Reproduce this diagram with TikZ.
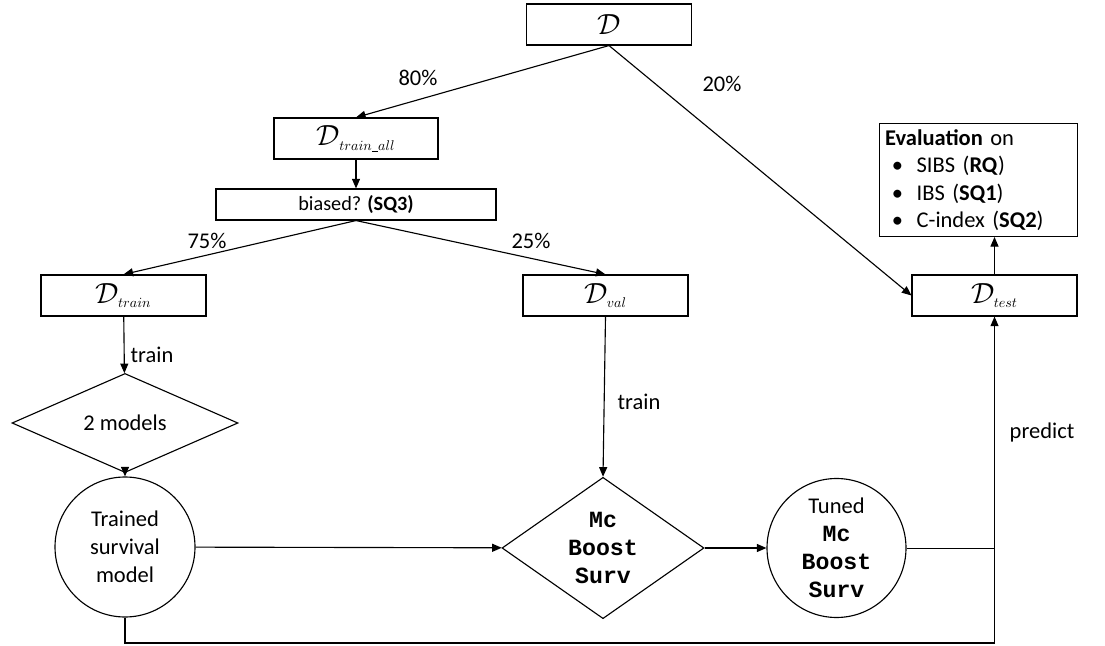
\documentclass[tikz,border=0pt]{standalone}
\usepackage{fontspec}
\setmainfont{Carlito}
\newfontfamily\codefont{Liberation Mono}
\usetikzlibrary{arrows.meta, positioning, shapes.geometric, calc}
\newcommand{\mb}[1]{{\codefont\bfseries\fontsize{16.5}{20}\selectfont #1}}
\newcommand{\dsub}[1]{\mathcal{D}_{\scriptscriptstyle #1}}
\newcommand{\usc}{\rule[-0.8pt]{4.5pt}{0.5pt}}

\begin{document}
\begin{tikzpicture}[
  box/.style={draw, line width=0.8pt, minimum width=4.125cm, minimum height=1.025cm,
              inner sep=0pt, font=\fontsize{20}{22}\selectfont},
  dia/.style={draw, diamond, line width=0.8pt, inner sep=0pt, align=center,
              font=\fontsize{16}{20}\selectfont},
  circ/.style={draw, circle, line width=0.8pt, minimum size=3.5cm, inner sep=0pt,
               align=center, font=\fontsize{16}{20}\selectfont},
  arr/.style={-{Triangle[length=2.4mm, width=2mm]}, line width=0.8pt},
  lbl/.style={font=\fontsize{16}{20}\selectfont}
]
  \useasboundingbox (0, 0) rectangle (27.625, -16.15);

  \node[box] (data) at (15.225, -0.6125) {$\mathcal{D}$};
  \node[box, minimum width=4.1cm] (trainall) at (8.9, -3.4625) {$\dsub{train\usc all}$};
  \node[box, minimum width=7cm, minimum height=0.775cm, font=\fontsize{14.4}{20}\selectfont]
    (biased) at (8.9, -5.1125) {biased? \textbf{(SQ3)}};
  \node[box] (dtrain) at (3.0875, -7.3875) {$\dsub{train}$};
  \node[box] (dval) at (15.1375, -7.3875) {$\dsub{val}$};
  \node[box] (dtest) at (24.8625, -7.3875) {$\dsub{test}$};

  \node[draw, line width=0.8pt, anchor=south west, align=left, inner sep=4pt,
        text width=4.95cm-8pt, font=\fontsize{16}{19.6}\selectfont]
    (eval) at (21.975, -5.925)
    {\textbf{Evaluation} on\\
     \hspace*{0.3em}\textbullet\hspace{0.6em}SIBS (\textbf{RQ})\\
     \hspace*{0.3em}\textbullet\hspace{0.6em}IBS (\textbf{SQ1})\\
     \hspace*{0.3em}\textbullet\hspace{0.6em}C-index (\textbf{SQ2})};

  \node[dia, minimum width=5.65cm, minimum height=1.5cm] (models) at (3.125, -10.575) {2 models};
  \node[circ] (trained) at (3.125, -13.675) {Trained\\survival\\model};
  \node[dia, minimum width=5.05cm, minimum height=3.2cm] (mcboost) at (15.075, -13.7)
    {\mb{Mc}\\\mb{Boost}\\\mb{Surv}};
  \node[circ, minimum size=3.475cm] (tuned) at (20.9125, -13.7)
    {Tuned\\\mb{Mc}\\\mb{Boost}\\\mb{Surv}};
  \coordinate (bottom) at (24.8625, -16.075);

  \draw[arr] (data.south) -- (trainall.north);
  \draw[arr] (data.south) -- (dtest.west);
  \draw[arr] (trainall) -- (biased);
  \draw[arr] (biased.south) -- (dtrain.north);
  \draw[arr] (biased.south) -- (dval.north);
  \draw[arr] (dtrain) -- (models);
  \draw[arr] (models) -- (trained);
  \draw[arr] (dval.south) -- (mcboost.north);
  \draw[arr] (trained) -- (mcboost);
  \draw[arr] (mcboost) -- (tuned);
  \draw (tuned.east) -- (tuned -| dtest);
  \draw[arr] (trained.south) |- (bottom) -- (dtest.south);
  \draw[arr] (dtest.north) -- (dtest |- eval.south);

  \node[lbl] at (10.45, -1.95) {80\%};
  \node[lbl] at (18.05, -2.1) {20\%};
  \node[lbl] at (5.175, -6.025) {75\%};
  \node[lbl] at (13.275, -6.025) {25\%};
  \node[lbl] at (3.8, -8.875) {train};
  \node[lbl] at (15.975, -10.05) {train};
  \node[lbl] at (26.05, -10.825) {predict};
\end{tikzpicture}
\end{document}
